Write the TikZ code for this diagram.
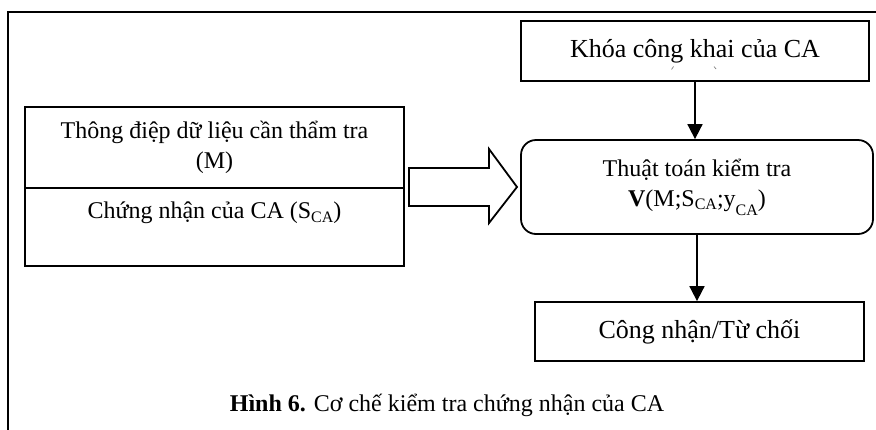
\documentclass[tikz,border=0pt]{standalone}
\usepackage{fontspec}
\setmainfont{Liberation Serif}
\usetikzlibrary{arrows.meta}
% subscripts: a slightly lowered one and a deeper one
\newcommand{\subca}{\raisebox{-0.3ex}{\fontsize{16}{16}\selectfont CA}}
\newcommand{\lowca}{\raisebox{-0.8ex}{\fontsize{16}{16}\selectfont CA}}
\begin{document}
\begin{tikzpicture}[x=1pt,y=-1pt,
  box/.style={draw, line width=1.8pt, inner sep=0pt, align=center},
  txt/.style={font=\fontsize{24}{30}\selectfont, align=center, inner sep=0pt},
  big/.style={font=\fontsize{26}{30}\selectfont},
  flow/.style={line width=1.8pt, -{Triangle[width=15pt,length=15pt]}}]
\useasboundingbox (0,0) rectangle (876,429);
\clip (0,0) rectangle (876,429);
\fill[white] (0,0) rectangle (876,429);
% outer frame (only its top and left sides fall inside the page)
\draw[line width=2.5pt] (8,440) -- (8,12) -- (890,12);

% public key of the CA
\node[box, big, minimum width=348pt, minimum height=60pt] (key) at (695,51) {Khóa công khai của CA};
\draw[line width=0.7pt, gray] (671.5,69.5) -- (673.5,66.5);
\draw[line width=0.7pt, gray] (714,66.5) -- (716,69);

% verification algorithm
\node[box, txt, rounded corners=15pt, minimum width=352pt, minimum height=94pt] (algo) at (697,187)
  {Thuật toán kiểm tra\\\textbf{V}(M;S\subca;y\lowca)};

% inputs: message and certificate
\node[box, txt, minimum width=379pt, minimum height=81pt] (msg) at (214.5,147.5)
  {Thông điệp dữ liệu cần thẩm tra\\(M)};
\node[box, minimum width=379pt, minimum height=78pt] (cert) at (214.5,227) {};
\node[txt] (certtext) at (214.5,213) {Chứng nhận của CA (S\subca)};

% hollow block arrow from the inputs to the algorithm
\draw[line width=1.8pt, line join=miter]
  (409,168) -- (489,168) -- (489,149) -- (517,187) -- (489,223) -- (489,206) -- (409,206) -- cycle;

% outcome
\node[box, big, minimum width=329pt, minimum height=59pt] (result) at (699.5,331.5) {Công nhận/Từ chối};

\draw[flow] (key.south) -- (key.south |- algo.north);
\draw[flow] (algo.south) -- (algo.south |- result.north);

\node[txt] (caption) at (447,405) {\textbf{Hình 6.} Cơ chế kiểm tra chứng nhận của CA};
\end{tikzpicture}
\end{document}
